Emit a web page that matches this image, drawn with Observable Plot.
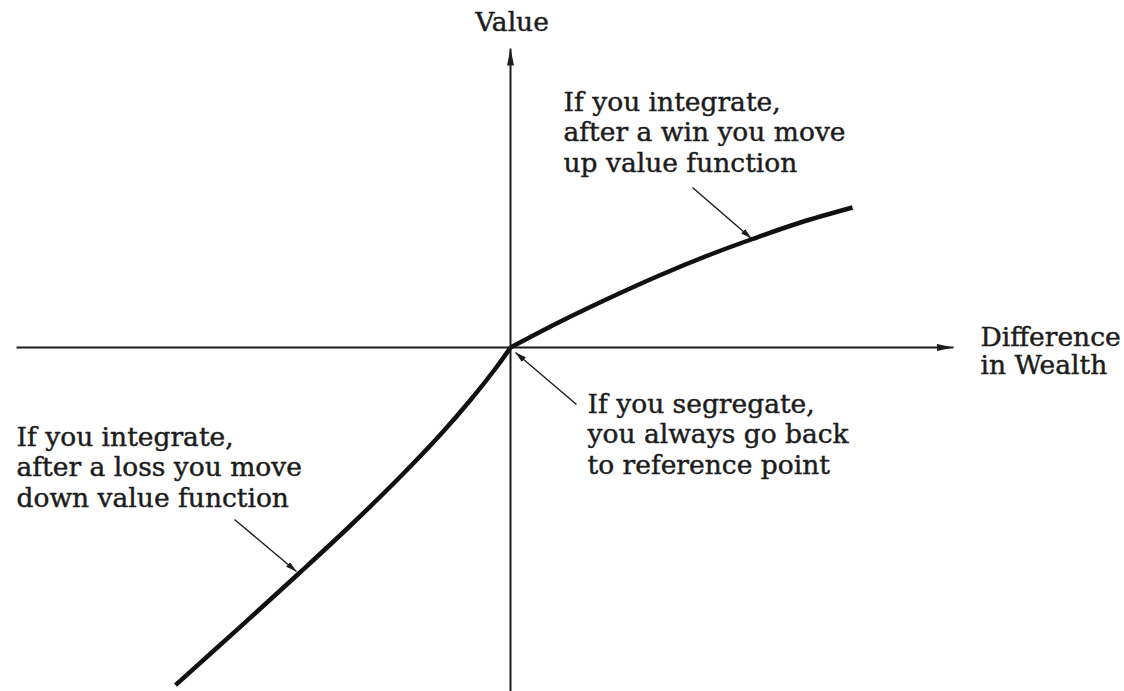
<!DOCTYPE html>
<html>
<head>
<meta charset="utf-8">
<script src="https://cdn.jsdelivr.net/npm/d3@7"></script>
<script src="https://cdn.jsdelivr.net/npm/@observablehq/plot@0.6"></script>
<style>
  html, body { margin: 0; padding: 0; background: #fff; }
</style>
</head>
<body>
<div id="chart"></div>
<script>
// Value function (units: 1 = 100px in the reference picture)
const gainX = [0, 0.5, 1.0, 1.5, 2.0, 2.42, 2.9, 3.42];
const gainY = [0, 0.26, 0.50, 0.725, 0.93, 1.085, 1.25, 1.40];
const lossX = [0, -0.15, -0.40, -0.70, -1.10, -1.60, -2.10, -2.70, -3.35];
const lossY = [0, -0.21, -0.525, -0.87, -1.29, -1.78, -2.245, -2.791, -3.376];

// Axes
const axisLabels = ["Value", "Difference\nin Wealth"];
const axisX1 = [0, -4.94];
const axisY1 = [-3.44, 0];
const axisX2 = [0, 4.43];
const axisY2 = [2.99, 0];

// Annotations
const noteTexts = [
  "If you integrate,\nafter a win you move\nup value function",
  "If you segregate,\nyou always go back\nto reference point",
  "If you integrate,\nafter a loss you move\ndown value function"
];
const noteX = [0.53, 0.77, -4.94];
const noteY = [1.76, -1.26, -1.59];
const pointerX1 = [1.82, 0.66, -2.76];
const pointerY1 = [1.60, -0.57, -1.72];
const pointerX2 = [2.41, 0.05, -2.14];
const pointerY2 = [1.09, -0.05, -2.24];

const curve = [
  ...gainX.map((x, i) => ({branch: "gain", x, y: gainY[i]})),
  ...lossX.map((x, i) => ({branch: "loss", x, y: lossY[i]}))
];
const axes = axisX1.map((x1, i) => ({x1, y1: axisY1[i], x2: axisX2[i], y2: axisY2[i]}));
const pointers = pointerX1.map((x1, i) => ({x1, y1: pointerY1[i], x2: pointerX2[i], y2: pointerY2[i]}));
const notes = noteTexts.map((t, i) => ({t, x: noteX[i], y: noteY[i]}));

const ink = "#1c1c1c";
const font = "DejaVu Serif";

function headMarker(len, wid) {
  return (color) => {
    const ns = "http://www.w3.org/2000/svg";
    const m = document.createElementNS(ns, "marker");
    m.setAttribute("viewBox", `0 ${-wid / 2} ${len} ${wid}`);
    m.setAttribute("refX", len);
    m.setAttribute("refY", 0);
    m.setAttribute("markerUnits", "userSpaceOnUse");
    m.setAttribute("markerWidth", len);
    m.setAttribute("markerHeight", wid);
    m.setAttribute("orient", "auto");
    const p = document.createElementNS(ns, "path");
    p.setAttribute("d", `M0,${-wid / 2}L${len},0L0,${wid / 2}Z`);
    p.setAttribute("fill", color);
    p.setAttribute("stroke", "none");
    m.appendChild(p);
    return m;
  };
}

const textStyle = {fontSize: 26.5, fill: ink, stroke: ink, strokeWidth: 0.45, fontFamily: font};

const chart = Plot.plot({
  width: 1124,
  height: 691,
  margin: 0,
  x: {domain: [-5.10, 6.14], axis: null},
  y: {domain: [-3.44, 3.47], axis: null},
  style: {background: "#fff", fontFamily: font, color: ink},
  marks: [
    Plot.link(axes, {x1: "x1", y1: "y1", x2: "x2", y2: "y2", stroke: ink, strokeWidth: 2, markerEnd: headMarker(17, 7)}),
    Plot.link(pointers, {x1: "x1", y1: "y1", x2: "x2", y2: "y2", stroke: ink, strokeWidth: 1.4, markerEnd: headMarker(11, 6)}),
    Plot.line(curve, {x: "x", y: "y", z: "branch", stroke: "#111", strokeWidth: 4.5, curve: "catmull-rom", strokeLinecap: "butt"}),
    Plot.text(notes, {x: "x", y: "y", text: "t", textAnchor: "start", lineAnchor: "bottom", lineHeight: 1.145, ...textStyle}),
    Plot.text([axisLabels[0]], {x: [0.015], y: [3.17], text: (d) => d, textAnchor: "middle", lineAnchor: "bottom", ...textStyle}),
    Plot.text([axisLabels[1]], {x: [4.70], y: [-0.265], text: (d) => d, textAnchor: "start", lineAnchor: "bottom", lineHeight: 1.075, ...textStyle})
  ]
});
document.getElementById("chart").appendChild(chart);
</script>
</body>
</html>
